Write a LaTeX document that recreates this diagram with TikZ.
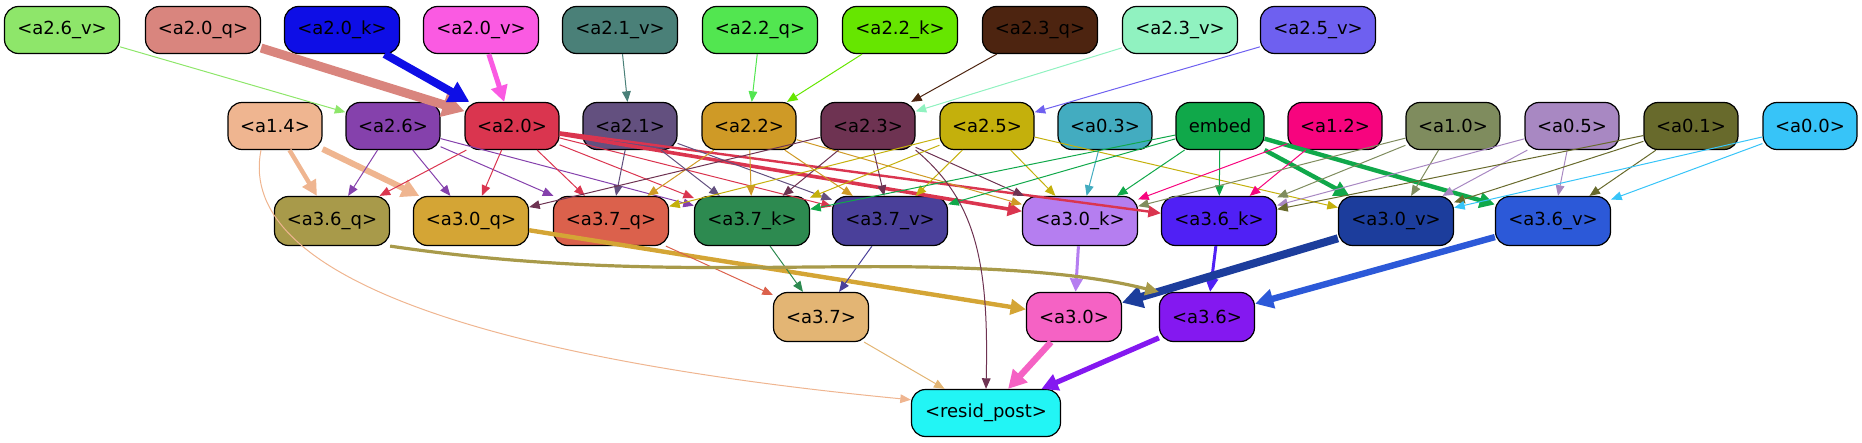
\documentclass[tikz,border=0pt]{standalone}
\usepackage{fontspec}
\setmainfont{DejaVu Sans}
\usetikzlibrary{arrows.meta}

% node colours, one per node name
\definecolor{a26v}{HTML}{8EE66A}
\definecolor{a20q}{HTML}{D9857E}
\definecolor{a20k}{HTML}{0E0EE6}
\definecolor{a20v}{HTML}{FA5AE2}
\definecolor{a21v}{HTML}{4A8078}
\definecolor{a22q}{HTML}{52E650}
\definecolor{a22k}{HTML}{66E600}
\definecolor{a23q}{HTML}{4D2410}
\definecolor{a23v}{HTML}{90F2C0}
\definecolor{a25v}{HTML}{6E60F0}
\definecolor{a14}{HTML}{EFB590}
\definecolor{a26}{HTML}{8541AC}
\definecolor{a20}{HTML}{DA354F}
\definecolor{a21}{HTML}{63507F}
\definecolor{a22}{HTML}{CF9A26}
\definecolor{a23}{HTML}{6E3352}
\definecolor{a25}{HTML}{C4B00C}
\definecolor{a03}{HTML}{43ACC0}
\definecolor{embed}{HTML}{10A84A}
\definecolor{a12}{HTML}{F7047E}
\definecolor{a10}{HTML}{7F8C5E}
\definecolor{a05}{HTML}{A888C2}
\definecolor{a01}{HTML}{686A2C}
\definecolor{a00}{HTML}{37C4F8}
\definecolor{a36q}{HTML}{A89A4A}
\definecolor{a30q}{HTML}{D4A535}
\definecolor{a37q}{HTML}{DB614C}
\definecolor{a37k}{HTML}{2D8A50}
\definecolor{a37v}{HTML}{4A409A}
\definecolor{a30k}{HTML}{B57EF0}
\definecolor{a36k}{HTML}{5020F5}
\definecolor{a30v}{HTML}{1C3D9C}
\definecolor{a36v}{HTML}{2C59D8}
\definecolor{a37}{HTML}{E3B574}
\definecolor{a30}{HTML}{F562C4}
\definecolor{a36}{HTML}{8418F0}
\definecolor{resid}{HTML}{22F5F5}

\newcommand{\rowone}{30}
\newcommand{\rowtwo}{126}
\newcommand{\rowthree}{221}
\newcommand{\rowfour}{317}
\newcommand{\rowfive}{413}

\begin{document}
\begin{tikzpicture}[x=0.5pt, y=-0.5pt,
	every node/.style={font=\fontsize{9}{11}\selectfont},
	box/.style={draw=black, line width=0.6pt, rounded corners=7pt, inner sep=0pt, minimum height=23.5pt},
	wire/.style={line width=#1pt, -{Triangle[length=4.6pt 1.4, width=3.4pt 1.9]}}]
	
	\useasboundingbox (0,0) rectangle (1862,443);
	
	\foreach \x/\n/\t in {62/a26v/a2.6\_v, 203/a20q/a2.0\_q, 342/a20k/a2.0\_k, 481/a20v/a2.0\_v, 620/a21v/a2.1\_v, 760/a22q/a2.2\_q, 900/a22k/a2.2\_k, 1040/a23q/a2.3\_q, 1180/a23v/a2.3\_v, 1318/a25v/a2.5\_v}
	{
		\node[box, fill=\n, minimum width=57.5pt] (\n) at (\x,\rowone) {<\t>};
	}
	
	\foreach \x/\n/\t in {275/a14/a1.4, 393/a26/a2.6, 512/a20/a2.0, 630/a21/a2.1, 749/a22/a2.2, 868/a23/a2.3, 987/a25/a2.5, 1105/a03/a0.3, 1335/a12/a1.2, 1453/a10/a1.0, 1572/a05/a0.5, 1691/a01/a0.1, 1810/a00/a0.0}
	{
		\node[box, fill=\n, minimum width=47pt] (\n) at (\x,\rowtwo) {<\t>};
	}
	\node[box, fill=embed, minimum width=44pt] (embed) at (1220,\rowtwo) {embed};
	
	\foreach \x/\n/\t in {332/a36q/a3.6\_q, 471/a30q/a3.0\_q, 611/a37q/a3.7\_q, 752/a37k/a3.7\_k, 890/a37v/a3.7\_v, 1080/a30k/a3.0\_k, 1219/a36k/a3.6\_k, 1396/a30v/a3.0\_v, 1553/a36v/a3.6\_v}
	{
		\node[box, fill=\n, minimum width=57.5pt, minimum height=24.5pt] (\n) at (\x,\rowthree) {<\t>};
	}
	
	\foreach \x/\n/\t in {821/a37/a3.7, 1074/a30/a3.0, 1207/a36/a3.6}
	{
		\node[box, fill=\n, minimum width=47.5pt, minimum height=24.5pt] (\n) at (\x,\rowfour) {<\t>};
	}
	\node[box, fill=resid, minimum width=74.5pt] (resid) at (986,\rowfive) {<resid\_post>};
	
	% straight wires, coloured after their source
	\foreach \s/\t/\w in {a26v/a26/0.5, a20q/a20/4.5, a20k/a20/4, a20v/a20/2.5, a21v/a21/0.5, a22q/a22/0.5, a22k/a22/0.5, a23q/a23/0.5, a23v/a23/0.5, a25v/a25/0.5,
		a14/a36q/2.2, a14/a30q/3, a26/a36q/0.5, a26/a30q/0.5, a26/a37q/0.5, a26/a37k/0.5,
		a20/a36q/0.5, a20/a30q/0.5, a20/a37q/0.5, a20/a37k/0.5, a20/a37v/0.5, a20/a30k/1.8, a20/a36k/1.2,
		a21/a37q/0.5, a21/a37k/0.5, a21/a37v/0.5, a22/a37q/0.5, a22/a37k/0.5, a22/a37v/0.5, a22/a30k/0.5,
		a23/a30q/0.5, a23/a37k/0.5, a23/a37v/0.5, a23/a30k/0.5,
		a25/a37q/0.5, a25/a37k/0.5, a25/a37v/0.5, a25/a30k/0.5, a25/a30v/0.5, a03/a30k/0.5,
		embed/a37k/0.5, embed/a37v/0.5, embed/a30k/0.5, embed/a36k/0.5, embed/a30v/2.2, embed/a36v/2.2,
		a12/a30k/0.5, a12/a36k/0.5, a10/a30k/0.5, a10/a36k/0.5, a10/a30v/0.5,
		a05/a36k/0.5, a05/a30v/0.5, a05/a36v/0.5, a01/a36k/0.5, a01/a30v/0.5, a01/a36v/0.5, a00/a30v/0.5, a00/a36v/0.5,
		a30q/a30/2.2, a37q/a37/0.5, a37k/a37/0.5, a37v/a37/0.5, a30k/a30/1.5, a36k/a36/1.5, a30v/a30/4, a36v/a36/3.2,
		a37/resid/0.5, a30/resid/3.2, a36/resid/2.6}
	{
		\draw[wire=\w, draw=\s] (\s) -- (\t);
	}
	
	% the long curved ones
	\draw[wire=1.6, draw=a36q] (a36q.south east) .. controls (620,280) and (800,262) .. (960,268) .. controls (1080,272) and (1130,285) .. (a36.north west);
	\draw[wire=0.5, draw=a14] ([xshift=-7pt]a14.south) .. controls (235,280) and (500,360) .. (resid.170);
	\draw[wire=0.5, draw=a23] (a23.south east) .. controls (975,200) and (989,260) .. (resid.north);

\end{tikzpicture}
\end{document}
